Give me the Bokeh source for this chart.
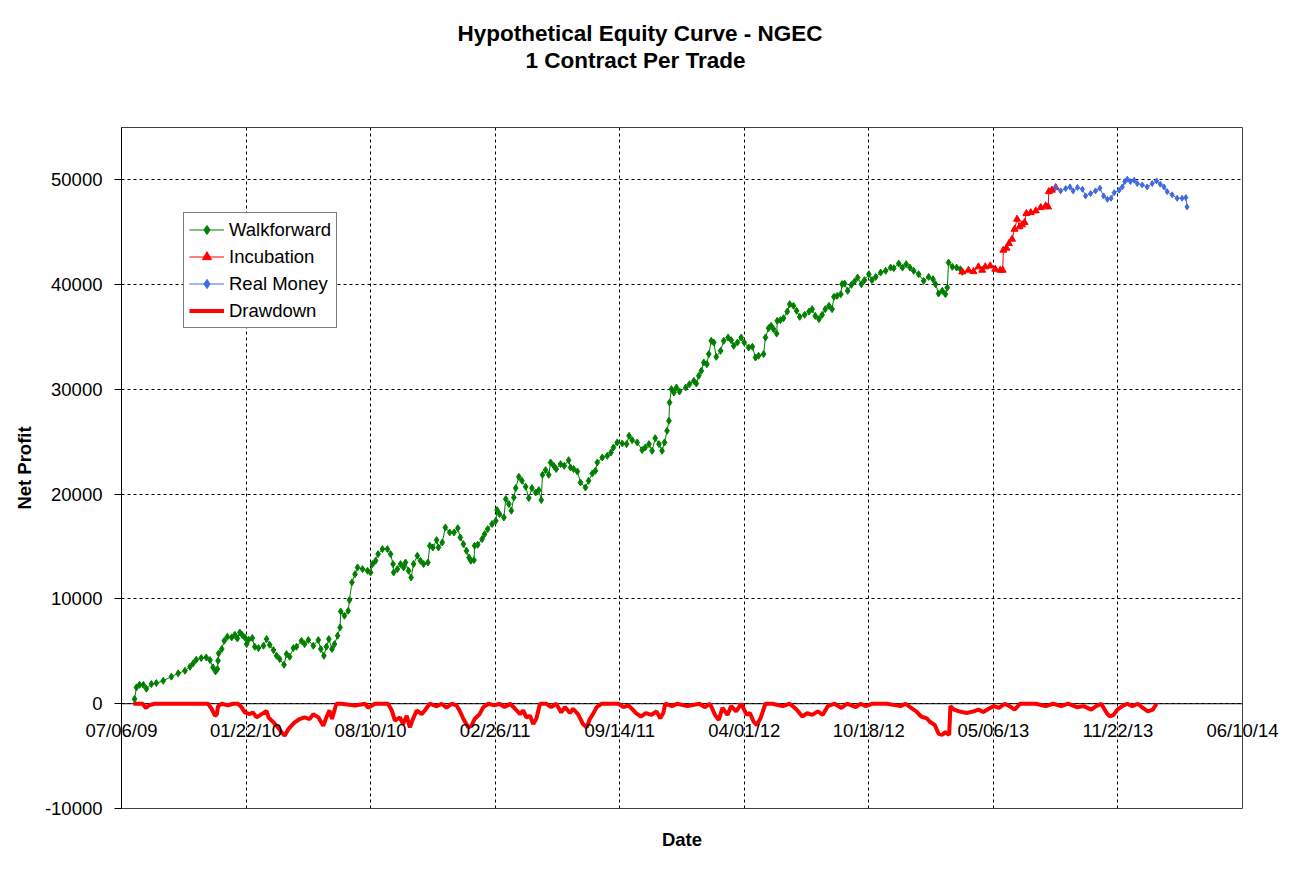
import pandas as pd
from bokeh.plotting import figure
from bokeh.models import (Range1d, FixedTicker, Legend, LegendItem, Title,
                          PrintfTickFormatter, DatetimeTickFormatter, Span)
from bokeh.embed import file_html
from bokeh.resources import INLINE

# ---------------- data ----------------
START_DATE = "2009-07-06"
END_DATE = "2014-06-10"
TICK_LABELS = ["07/06/09", "01/22/10", "08/10/10", "02/26/11", "09/14/11",
               "04/01/12", "10/18/12", "05/06/13", "11/22/13", "06/10/14"]
Y_TICKS = [-10000, 0, 10000, 20000, 30000, 40000, 50000]
Y_MIN, Y_MAX = -10000, 55000

# days after START_DATE
WF_DAYS = [21, 24, 29, 35, 40, 48, 56, 67, 80, 91,
           102, 110, 115, 120, 128, 136, 142, 147, 151, 154,
           155, 156, 161, 165, 170, 177, 182, 186, 190, 194,
           198, 201, 204, 210, 214, 220, 228, 233, 238, 244,
           249, 254, 261, 265, 270, 276, 281, 289, 294, 300,
           308, 316, 320, 325, 329, 333, 338, 342, 347, 351,
           352, 358, 364, 366, 370, 375, 379, 387, 395, 400,
           403, 408, 412, 419, 427, 432, 436, 437, 443, 448,
           453, 456, 461, 465, 469, 475, 480, 485, 492, 495,
           500, 506, 509, 515, 520, 527, 534, 540, 544, 549,
           554, 558, 561, 566, 567, 572, 579, 583, 588, 595,
           601, 603, 607, 614, 617, 622, 626, 630, 633, 638,
           643, 649, 654, 659, 665, 670, 674, 676, 681, 686,
           689, 694, 698, 705, 711, 718, 721, 726, 732, 737,
           745, 750, 756, 761, 764, 772, 780, 786, 790, 796,
           804, 811, 815, 820, 828, 836, 841, 847, 852, 857,
           863, 868, 872, 876, 879, 880, 883, 887, 891, 896,
           906, 912, 919, 923, 927, 931, 935, 940, 943, 947,
           951, 955, 962, 967, 974, 979, 983, 989, 995, 1000,
           1007, 1013, 1018, 1023, 1031, 1034, 1039, 1043, 1047, 1052,
           1053, 1058, 1063, 1069, 1073, 1079, 1084, 1089, 1097, 1104,
           1109, 1114, 1120, 1125, 1130, 1136, 1141, 1144, 1149, 1155,
           1157, 1161, 1166, 1172, 1177, 1182, 1188, 1193, 1200, 1205,
           1211, 1219, 1227, 1235, 1240, 1248, 1254, 1260, 1266, 1272,
           1280, 1288, 1296, 1303, 1307, 1312, 1318, 1323, 1326, 1328,
           1334, 1341, 1347, 1350]
WF_VALUES = [450, 1560, 1810, 1800, 1430, 1880, 1970, 2190, 2580, 2900,
             3150, 3530, 3850, 4200, 4360, 4420, 4170, 3470, 3080, 3310,
             4100, 4800, 5220, 6010, 6390, 6330, 6580, 6230, 6800, 6550,
             6330, 5690, 6110, 6270, 5440, 5310, 5530, 6170, 5630, 5120,
             4580, 4260, 3720, 4740, 4480, 5310, 5440, 6010, 5690, 6080,
             5530, 6080, 5220, 4580, 5440, 6170, 5220, 5690, 6490, 7280,
             8810, 8400, 8870, 9890, 11580, 12370, 13010, 12850, 12690, 12530,
             13330, 13650, 14280, 14760, 14760, 14280, 13330, 12530, 12850, 13330,
             13010, 13480, 12690, 12050, 13330, 14120, 13650, 13330, 13480, 15080,
             14920, 15620, 14920, 15390, 16820, 16350, 16350, 16760, 15870, 15240,
             14600, 13960, 13650, 13710, 15080, 15170, 15720, 16190, 16670, 17150,
             17460, 18480, 18100, 17780, 19530, 19060, 18420, 19690, 20580, 21660,
             21280, 20710, 19630, 20580, 20160, 20390, 19440, 21850, 22300, 21850,
             23030, 22710, 22400, 22870, 22710, 23250, 22550, 22400, 22170, 21120,
             20640, 21280, 21980, 22230, 23030, 23500, 23660, 23980, 24460, 24940,
             24840, 24780, 25570, 25160, 24940, 24210, 24460, 24780, 24140, 25350,
             24780, 24140, 24940, 26050, 27000, 28750, 30030, 29700, 30180, 29800,
             30180, 30500, 30820, 30560, 31300, 31780, 32570, 32410, 33370, 34640,
             34480, 33110, 33680, 34640, 34950, 34700, 34160, 34480, 34950, 34480,
             34000, 34070, 33050, 33210, 33370, 34950, 35850, 36070, 35750, 35330,
             36550, 36610, 36800, 37430, 38140, 37980, 37500, 36930, 37120, 37430,
             37660, 37020, 36710, 37120, 37660, 37980, 37660, 38840, 38930, 39090,
             40050, 40100, 39410, 39980, 40300, 40680, 40050, 40430, 41000, 40430,
             40740, 41160, 41320, 41630, 41570, 42010, 41630, 41950, 41630, 41320,
             41000, 40360, 40740, 40520, 40050, 39150, 39410, 39090, 39730, 42110,
             41700, 41630, 41470, 41220]

INC_DAYS = [1350, 1360, 1368, 1376, 1382, 1387, 1395, 1403, 1411, 1415,
            1416, 1421, 1425, 1430, 1434, 1438, 1442, 1446, 1450, 1453,
            1460, 1468, 1476, 1484, 1488, 1489, 1494, 1500]
INC_VALUES = [41220, 41380, 41250, 41700, 41380, 41700, 41790, 41470, 41380, 41380,
              43290, 43480, 43920, 44340, 45290, 46250, 45520, 45710, 45930, 46790,
              46880, 47040, 47360, 47520, 47420, 48880, 49020, 49270]

RM_DAYS = [1500, 1508, 1516, 1523, 1528, 1535, 1543, 1548, 1556, 1564,
           1571, 1577, 1583, 1589, 1594, 1602, 1607, 1611, 1615, 1620,
           1626, 1631, 1639, 1647, 1655, 1662, 1668, 1674, 1679, 1687,
           1695, 1703, 1709, 1711]
RM_VALUES = [49270, 48950, 49170, 49330, 48950, 49270, 49110, 48470, 48690, 48950,
             49210, 48470, 48150, 48250, 48780, 49020, 49330, 49840, 50070, 49840,
             49970, 49650, 49520, 49330, 49650, 49900, 49590, 49330, 48880, 48570,
             48250, 48250, 48310, 47420]

DD_DAYS = [19, 34, 39, 45, 53, 139, 145, 150, 153, 155,
           161, 171, 179, 187, 193, 198, 206, 211, 217, 225,
           233, 236, 244, 252, 257, 262, 268, 273, 278, 286,
           294, 302, 308, 316, 324, 329, 334, 338, 345, 353,
           375, 391, 396, 407, 428, 434, 439, 447, 452, 458,
           463, 468, 474, 482, 487, 495, 506, 514, 522, 530,
           538, 543, 549, 557, 562, 567, 575, 581, 589, 599,
           607, 615, 624, 632, 640, 645, 650, 656, 661, 666,
           672, 682, 690, 698, 706, 712, 720, 725, 733, 741,
           747, 752, 757, 763, 771, 787, 798, 806, 814, 822,
           826, 834, 842, 851, 859, 865, 870, 873, 884, 892,
           909, 928, 937, 945, 953, 959, 965, 973, 979, 987,
           995, 1004, 1009, 1015, 1020, 1026, 1034, 1045, 1062, 1073,
           1084, 1093, 1101, 1109, 1118, 1126, 1134, 1145, 1156, 1165,
           1179, 1187, 1195, 1206, 1229, 1251, 1259, 1268, 1276, 1284,
           1293, 1298, 1306, 1312, 1318, 1323, 1329, 1331, 1337, 1345,
           1357, 1368, 1376, 1384, 1393, 1401, 1409, 1418, 1426, 1434,
           1443, 1454, 1468, 1484, 1496, 1509, 1520, 1534, 1545, 1557,
           1565, 1573, 1582, 1587, 1593, 1599, 1607, 1615, 1623, 1632,
           1640, 1648, 1656, 1662]
DD_VALUES = [0, 0, -410, -130, 0, 0, -510, -1150, -1020, -250,
             0, -160, 0, 0, -350, -830, -990, -830, -1300, -990,
             -700, -1300, -1780, -2320, -2730, -3050, -2420, -2100, -1780, -1460,
             -1300, -1460, -990, -1300, -2100, -1300, -640, -1460, 0, 0,
             -160, 0, -380, 0, 0, -640, -1620, -1300, -1940, -1150,
             -2260, -1460, -640, -990, -640, 0, -250, 0, -380, 0,
             -160, -670, -1460, -2260, -2100, -1460, -990, -320, 0, -160,
             0, -320, 0, -480, -990, -640, -1300, -1150, -1940, -1460,
             0, 0, -320, 0, -830, -320, -890, -480, -990, -1940,
             -2260, -1460, -990, -320, 0, 0, 0, -320, -160, -640,
             -890, -1220, -890, -1060, -730, -1390, -890, 0, -230, 0,
             -230, 0, -330, 0, -1060, -1550, -400, -1060, -230, -730,
             0, -1060, -890, -1720, -2050, -1390, 0, 0, -230, 0,
             -560, -1220, -890, -1060, -730, -1060, -230, 0, -400, 0,
             -330, 0, -230, 0, 0, -230, 0, -400, -730, -1220,
             -1390, -1720, -2050, -2870, -2970, -2710, -2970, -230, -560, -730,
             -890, -730, -560, -790, -460, -230, -400, 0, -230, -560,
             0, 0, 0, -230, 0, -230, 0, -330, -230, -560,
             -230, 0, -890, -1220, -1060, -560, -230, 0, -230, 0,
             -400, -730, -560, 0]

# ---------------- helpers ----------------
EPOCH = pd.Timestamp("1970-01-01")
START = pd.Timestamp(START_DATE)


def to_ms(ts):
    return (ts - EPOCH) / pd.Timedelta(milliseconds=1)


def days_to_ms(days):
    return [to_ms(START + pd.Timedelta(days=d)) for d in days]


tick_ms = [to_ms(pd.to_datetime(t, format="%m/%d/%y")) for t in TICK_LABELS]

FONT = "Liberation Sans"
GREEN = "#008000"
RED = "#FF0000"
BLUE = "#4169E1"

W, H = 1285, 865
p = figure(width=W, height=H, x_axis_type="datetime",
           output_backend="svg", toolbar_location=None,
           x_range=Range1d(to_ms(START), to_ms(pd.Timestamp(END_DATE))),
           y_range=Range1d(Y_MIN, Y_MAX),
           min_border_left=121, min_border_right=W - 1242,
           min_border_top=127, min_border_bottom=H - 808,
           title="Hypothetical Equity Curve - NGEC")
p.background_fill_color = "white"
p.border_fill_color = "white"
p.outline_line_color = "#404040"
p.outline_line_width = 1

# titles (stacked outward from the frame: spacer, sub-title, main title)
p.add_layout(Title(text=" ", standoff=52, text_font_size="1px"), "above")
p.add_layout(Title(text="1 Contract Per Trade", align="left",
                   offset=404, standoff=0, text_font=FONT,
                   text_font_size="22.5px", text_font_style="bold",
                   text_color="black"), "above")
p.title.align = "left"
p.title.offset = 336
p.title.standoff = 0
p.title.text_font = FONT
p.title.text_font_size = "22.5px"
p.title.text_font_style = "bold"
p.title.text_color = "black"

# x axis: date labels lifted up to sit just under the zero line
xa = p.xaxis[0]
xa.ticker = FixedTicker(ticks=tick_ms)
fmt = "%m/%d/%y"
xa.formatter = DatetimeTickFormatter(microseconds=fmt, milliseconds=fmt, seconds=fmt,
                                     minsec=fmt, minutes=fmt, hourmin=fmt, hours=fmt,
                                     days=fmt, months=fmt, years=fmt)
xa.axis_line_color = None
xa.major_tick_line_color = None
xa.minor_tick_line_color = None
xa.major_tick_out = 0
xa.major_tick_in = 0
xa.major_label_standoff = -89
xa.major_label_text_font = FONT
xa.major_label_text_font_size = "18.5px"
xa.major_label_text_color = "black"
xa.axis_label = "Date"
xa.axis_label_standoff = 85
xa.axis_label_text_font = FONT
xa.axis_label_text_font_size = "18.5px"
xa.axis_label_text_font_style = "bold"
xa.axis_label_text_color = "black"

# y axis
ya = p.yaxis[0]
ya.ticker = FixedTicker(ticks=Y_TICKS)
ya.formatter = PrintfTickFormatter(format="%d")
ya.axis_label = "Net Profit"
ya.axis_label_text_font = FONT
ya.axis_label_text_font_size = "18.5px"
ya.axis_label_text_font_style = "bold"
ya.axis_label_text_color = "black"
ya.axis_label_standoff = 7
ya.axis_line_color = "black"
ya.major_tick_out = 7
ya.major_tick_in = 0
ya.major_tick_line_color = "black"
ya.minor_tick_line_color = None
ya.major_label_standoff = 12
ya.major_label_text_font = FONT
ya.major_label_text_font_size = "18.5px"
ya.major_label_text_color = "black"

for g in (p.xgrid[0], p.ygrid[0]):
    g.grid_line_color = "black"
    g.grid_line_dash = "3 3"
    g.grid_line_width = 1

# horizontal axis line where the category axis crosses (value 0)
p.add_layout(Span(location=Y_TICKS[1], dimension="width", line_color="black",
                  line_width=1, level="underlay"))

# series
dd_line = p.line(days_to_ms(DD_DAYS), DD_VALUES, line_color=RED, line_width=4)
wf_line = p.line(days_to_ms(WF_DAYS), WF_VALUES, line_color=GREEN, line_width=1)
wf_pts = p.scatter(days_to_ms(WF_DAYS), WF_VALUES, marker="diamond", size=7,
                   fill_color=GREEN, line_color=GREEN)
inc_line = p.line(days_to_ms(INC_DAYS), INC_VALUES, line_color=RED, line_width=1)
inc_pts = p.scatter(days_to_ms(INC_DAYS), INC_VALUES, marker="triangle", size=7,
                    fill_color=RED, line_color=RED)
rm_line = p.line(days_to_ms(RM_DAYS), RM_VALUES, line_color=BLUE, line_width=1)
rm_pts = p.scatter(days_to_ms(RM_DAYS), RM_VALUES, marker="diamond", size=6,
                   fill_color=BLUE, line_color=BLUE)

legend = Legend(items=[
    LegendItem(label="Walkforward", renderers=[wf_line, wf_pts]),
    LegendItem(label="Incubation", renderers=[inc_line, inc_pts]),
    LegendItem(label="Real Money", renderers=[rm_line, rm_pts]),
    LegendItem(label="Drawdown", renderers=[dd_line]),
], location=(62, 480), margin=0, padding=5, spacing=4,
    label_height=23, glyph_height=23, glyph_width=35, label_standoff=5,
    label_text_font=FONT, label_text_font_size="18.5px", label_text_color="black",
    border_line_color="black", border_line_width=1, background_fill_color="white",
    background_fill_alpha=1.0)
p.add_layout(legend)

open("out.html", "w").write(file_html(p, INLINE))
